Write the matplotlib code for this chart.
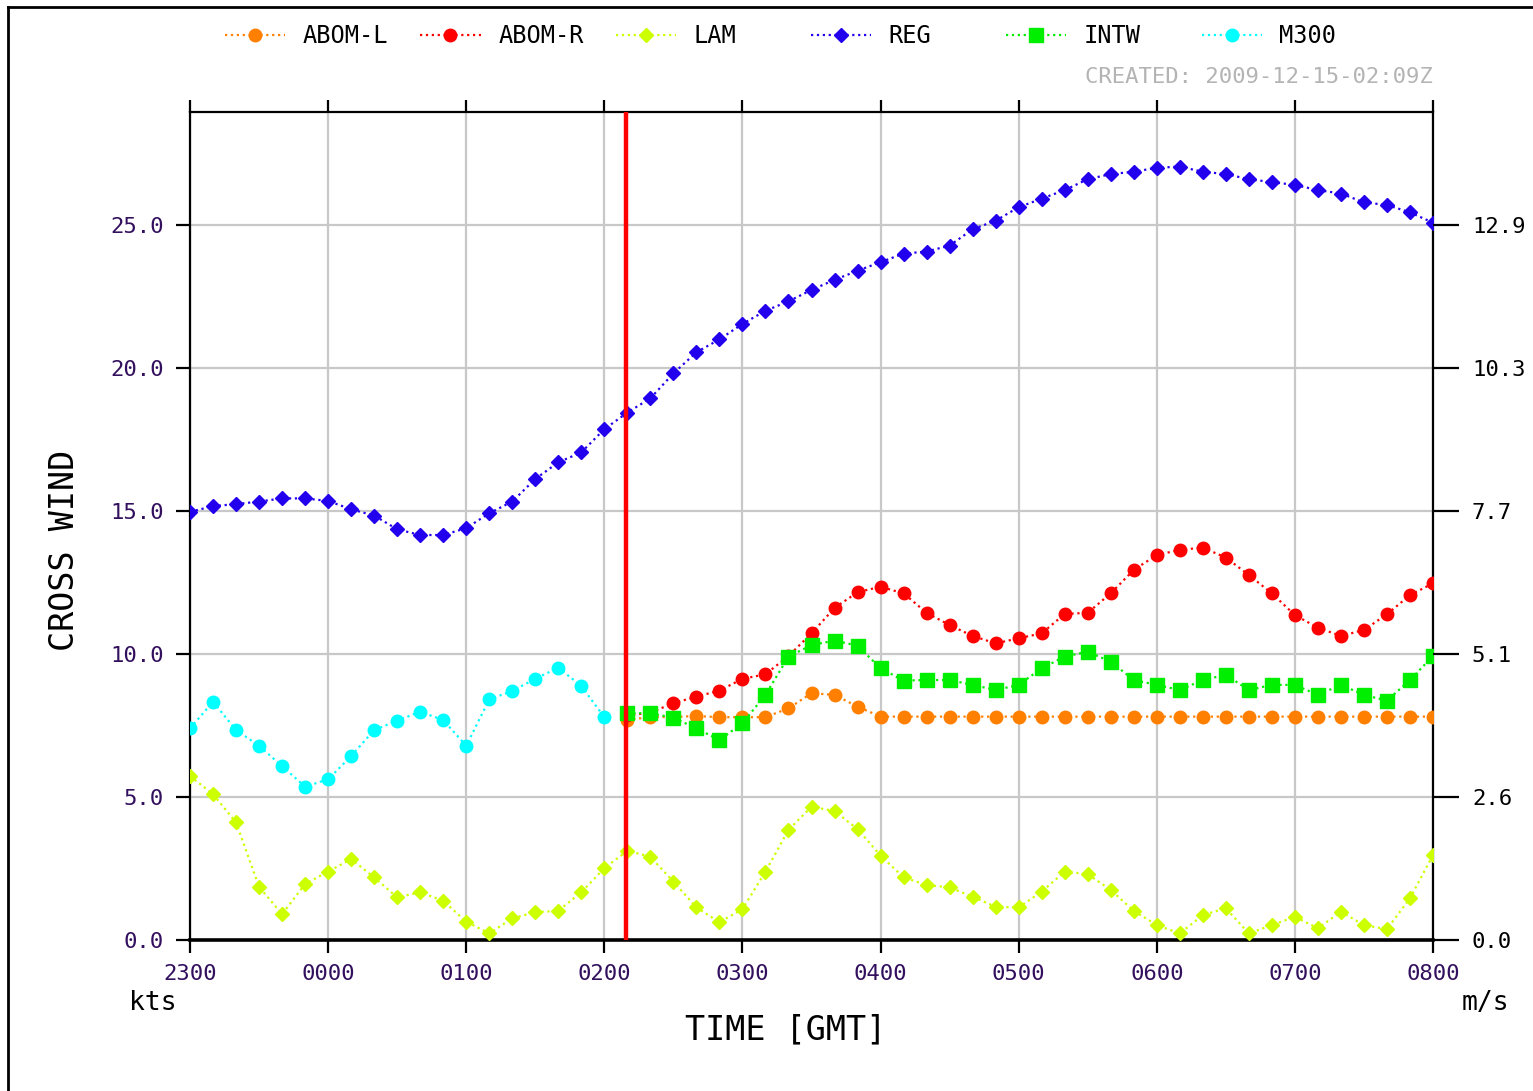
import numpy as np
import matplotlib
matplotlib.use("Agg")
import matplotlib.pyplot as plt
from matplotlib.lines import Line2D

plt.rcParams['font.family'] = ['DejaVu Sans Mono']

# 10-minute steps from 2300 to 0800 GMT
step_hours = np.arange(55) / 6.0
hour_labels = ['2300', '0000', '0100', '0200', '0300', '0400', '0500', '0600', '0700', '0800']
now_hour = 3.155  # 0209Z

reg = [14.97, 15.17, 15.24, 15.33, 15.44, 15.44, 15.35, 15.06, 14.84, 14.36,
       14.16, 14.16, 14.40, 14.92, 15.33, 16.12, 16.70, 17.05, 17.86, 18.44,
       18.94, 19.81, 20.55, 21.00, 21.54, 22.00, 22.33, 22.73, 23.08, 23.40,
       23.70, 24.00, 24.07, 24.28, 24.85, 25.15, 25.62, 25.92, 26.22, 26.60,
       26.78, 26.86, 27.00, 27.04, 26.86, 26.78, 26.60, 26.50, 26.40, 26.22,
       26.10, 25.79, 25.70, 25.44, 25.08]

lam = [5.73, 5.10, 4.11, 1.86, 0.90, 1.96, 2.39, 2.83, 2.19, 1.49,
       1.67, 1.37, 0.64, 0.23, 0.76, 0.97, 1.02, 1.67, 2.51, 3.12,
       2.91, 2.04, 1.14, 0.62, 1.08, 2.39, 3.85, 4.66, 4.51, 3.88,
       2.95, 2.19, 1.92, 1.84, 1.51, 1.16, 1.14, 1.69, 2.39, 2.30,
       1.75, 1.02, 0.52, 0.23, 0.87, 1.11, 0.23, 0.52, 0.81, 0.41,
       0.99, 0.52, 0.38, 1.46, 2.97]

# observations run up to 0200
m300 = [7.40, 8.33, 7.34, 6.79, 6.08, 5.36, 5.62, 6.43, 7.34, 7.67,
        7.98, 7.69, 6.79, 8.41, 8.71, 9.13, 9.52, 8.88, 7.79]

# forecasts start at 0210
abom_l = [7.70, 7.79, 7.80, 7.83, 7.79, 7.79, 7.79, 8.10, 8.63, 8.57,
          8.16, 7.81, 7.81, 7.81, 7.81, 7.81, 7.81, 7.81, 7.81, 7.81,
          7.81, 7.81, 7.81, 7.81, 7.81, 7.81, 7.81, 7.81, 7.81, 7.81,
          7.81, 7.81, 7.81, 7.81, 7.81, 7.81]

abom_r = [7.85, 7.95, 8.28, 8.51, 8.72, 9.13, 9.29, 9.93, 10.72, 11.61,
          12.16, 12.35, 12.12, 11.44, 11.01, 10.63, 10.37, 10.55, 10.72, 11.40,
          11.44, 12.12, 12.94, 13.46, 13.64, 13.72, 13.37, 12.76, 12.12, 11.36,
          10.92, 10.63, 10.84, 11.39, 12.06, 12.47]

intw = [7.93, 7.93, 7.77, 7.40, 6.99, 7.58, 8.57, 9.91, 10.31, 10.47,
        10.29, 9.50, 9.07, 9.09, 9.09, 8.92, 8.74, 8.92, 9.50, 9.91,
        10.08, 9.73, 9.09, 8.92, 8.74, 9.09, 9.27, 8.74, 8.92, 8.92,
        8.57, 8.92, 8.57, 8.37, 9.09, 9.93]

kts_ticks = [0, 5, 10, 15, 20, 25]
ms_labels = ['%.1f' % (k * 0.5144) for k in kts_ticks]

label_col = '#33105e'

fig = plt.figure(figsize=(15.33, 10.91), dpi=100)
ax = fig.add_axes([190 / 1533, 1 - 940 / 1091, (1433 - 190) / 1533, (940 - 112) / 1091])

fc = step_hours[19:]
series = [
    ('ABOM-L', fc, abom_l, '#ff8000', 'o', 9),
    ('ABOM-R', fc, abom_r, '#ff0000', 'o', 9),
    ('LAM', step_hours, lam, '#ccff00', 'D', 7.5),
    ('REG', step_hours, reg, '#2200ee', 'D', 7.5),
    ('INTW', fc, intw, '#00ee00', 's', 10),
    ('M300', step_hours[:19], m300, '#00ffff', 'o', 9),
]

handles = []
for name, x, y, col, mk, ms in series:
    h, = ax.plot(x, y, linestyle=':', linewidth=1.6, color=col, marker=mk,
                 markersize=ms, markeredgecolor=col, label=name, zorder=3)
    handles.append(h)

ax.axvline(now_hour, color='#ff0000', linewidth=3.2, zorder=5)

ax.set_xlim(0, 9)
ax.set_ylim(0, 28.95)
ax.set_xticks(range(10))
ax.set_xticklabels(hour_labels)
ax.set_yticks(kts_ticks)
ax.set_yticklabels(['%.1f' % k for k in kts_ticks])
ax.grid(True, color='#c8c8c8', linewidth=1.6, zorder=0)
ax.set_axisbelow(True)

for side in ['left', 'right', 'top']:
    ax.spines[side].set_linewidth(1.6)
ax.spines['bottom'].set_linewidth(2.6)

ax.tick_params(axis='y', direction='out', length=10, width=1.6, pad=9,
               labelsize=16, labelcolor=label_col)
ax.tick_params(axis='x', direction='out', length=9, width=1.6, pad=8,
               labelsize=16, labelcolor=label_col, top=True)

ax2 = ax.twinx()
ax2.set_ylim(ax.get_ylim())
ax2.set_yticks(kts_ticks)
ax2.set_yticklabels(ms_labels)
ax2.tick_params(axis='y', direction='out', length=19, width=1.6, pad=9,
                labelsize=16, labelcolor='black')
for side in ['left', 'right', 'top', 'bottom']:
    ax2.spines[side].set_visible(False)

# legend row along the top, one fixed slot per series
for i, h in enumerate(handles):
    x0 = (225 + 195.3 * i) / 1533
    fig.legend(handles=[h], loc='center left', bbox_to_anchor=(x0, 1 - 36 / 1091),
               frameon=False, fontsize=17, handlelength=2.55, handletextpad=0.75,
               numpoints=1, borderpad=0, borderaxespad=0)

fig.text(1433 / 1533, 1 - 77 / 1091, 'CREATED: 2009-12-15-02:09Z', color='#b4b4b4',
         fontsize=16, ha='right', va='center')
fig.text(153 / 1533, 1 - 1003 / 1091, 'kts', fontsize=19, ha='center', va='center')
fig.text(1485 / 1533, 1 - 1003 / 1091, 'm/s', fontsize=19, ha='center', va='center')
fig.text(786 / 1533, 1 - 1030 / 1091, 'TIME [GMT]', fontsize=24, ha='center', va='center')
fig.text(65 / 1533, 1 - 550 / 1091, 'CROSS WIND', fontsize=24, ha='center', va='center',
         rotation=90)

# page border
fig.add_artist(Line2D([8 / 1533, 8 / 1533], [0, 1 - 7 / 1091], color='black', linewidth=2,
                      transform=fig.transFigure))
fig.add_artist(Line2D([8 / 1533, 1], [1 - 7 / 1091, 1 - 7 / 1091], color='black', linewidth=2,
                      transform=fig.transFigure))

fig.savefig('out.png', dpi=100)
